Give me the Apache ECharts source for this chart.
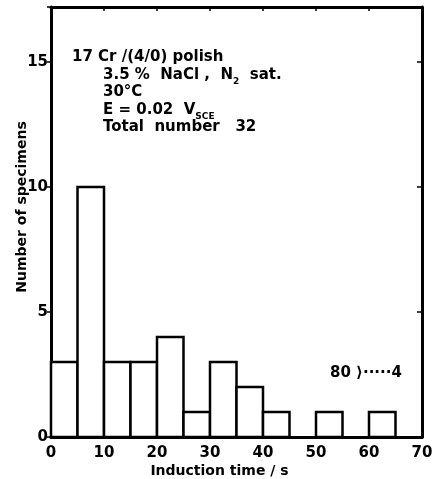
<!DOCTYPE html>
<html><head><meta charset="utf-8">
<script src="https://cdn.jsdelivr.net/npm/echarts@6/dist/echarts.min.js"></script>
<style>html,body{margin:0;padding:0;background:#fff}#c{width:438px;height:479px}</style>
</head><body><div id="c"></div>
<script>
const binStarts = [0,5,10,15,20,25,30,35,40,45,50,55,60];
const binWidth = 5;
const counts = [3,10,3,3,4,1,3,2,1,0,1,0,1];
const xTicks = [0,10,20,30,40,50,60,70];
const yTicks = [0,5,10,15];

const data = binStarts.map((s,i)=>[s, s+binWidth, counts[i]]);
const F = '"DejaVu Sans", sans-serif';
const chart = echarts.init(document.getElementById('c'));
chart.setOption({
  animation:false,
  backgroundColor:'#fff',
  grid:{left:51,right:16,top:7,bottom:42,outerBoundsMode:'none',containLabel:false},
  xAxis:[{
    type:'value',min:0,max:70,interval:10,
    axisLine:{onZero:false,lineStyle:{color:'#000',width:3}},
    axisTick:{show:false},splitLine:{show:false},
    axisLabel:{color:'#000',fontFamily:F,fontSize:15,fontWeight:'bold',margin:9,
      formatter:v=>xTicks.includes(v)?String(v):''},
    name:'Induction time / s',nameLocation:'middle',nameGap:27,nameMoveOverlap:false,
    nameTextStyle:{color:'#000',fontFamily:F,fontSize:14,fontWeight:'bold',padding:[0,34,0,0]}
  },{
    type:'value',min:0,max:70,interval:10,position:'top',
    axisLine:{show:true,onZero:false,lineStyle:{color:'#000',width:3}},
    axisTick:{show:true,inside:true,length:4,lineStyle:{width:1.5}},
    axisLabel:{show:false},splitLine:{show:false}
  }],
  yAxis:[{
    type:'value',min:0,max:17.2,interval:5,
    axisLine:{show:true,onZero:false,lineStyle:{color:'#000',width:3}},
    axisTick:{show:true,inside:false,length:4,lineStyle:{width:1.5}},
    splitLine:{show:false},
    axisLabel:{color:'#000',fontFamily:F,fontSize:15,fontWeight:'bold',margin:3,
      formatter:v=>yTicks.includes(v)?String(v):''},
    name:'Number of specimens',nameLocation:'middle',nameGap:22,nameRotate:90,nameMoveOverlap:false,
    nameTextStyle:{color:'#000',fontFamily:F,fontSize:14,fontWeight:'bold',padding:[0,0,0,30]}
  },{
    type:'value',min:0,max:17.2,interval:5,position:'right',
    axisLine:{show:true,onZero:false,lineStyle:{color:'#000',width:3}},
    axisTick:{show:true,inside:true,length:5,lineStyle:{width:1.5}},
    axisLabel:{show:false},splitLine:{show:false}
  }],
  series:[{
    type:'custom',
    xAxisIndex:0,yAxisIndex:0,
    data:data,
    encode:{x:[0,1],y:2},
    renderItem:(params,api)=>{
      const v = api.value(2);
      if(!v) return null;
      const p0 = api.coord([api.value(0), v]);
      const p1 = api.coord([api.value(1), 0]);
      return {type:'rect',shape:{x:p0[0],y:p0[1],width:p1[0]-p0[0],height:p1[1]-p0[1]},
        style:{fill:'#fff',stroke:'#000',lineWidth:2.5}};
    }
  }],
  graphic:[
    {type:'text',left:72,top:50,style:{text:'17 Cr /(4/0) polish',font:'bold 15px '+F,fill:'#000'}},
    {type:'text',left:103,top:68,style:{text:'3.5 %  NaCl ,  N{s|2}  sat.',font:'bold 15px '+F,fill:'#000',
      rich:{s:{fontSize:9,fontWeight:'bold',fontFamily:F,verticalAlign:'bottom',padding:[0,0,-3,0]}}}},
    {type:'text',left:103,top:85,style:{text:'30°C',font:'bold 15px '+F,fill:'#000'}},
    {type:'text',left:103,top:103,style:{text:'E = 0.02  V{s|SCE}',font:'bold 15px '+F,fill:'#000',
      rich:{s:{fontSize:9,fontWeight:'bold',fontFamily:F,verticalAlign:'bottom',padding:[0,0,-3,0]}}}},
    {type:'text',left:103,top:120,style:{text:'Total  number   32',font:'bold 15px '+F,fill:'#000'}},
    {type:'text',left:330,top:366,style:{text:'80 ⟩·····4',font:'bold 15px '+F,fill:'#000'}}
  ]
});
</script></body></html>
